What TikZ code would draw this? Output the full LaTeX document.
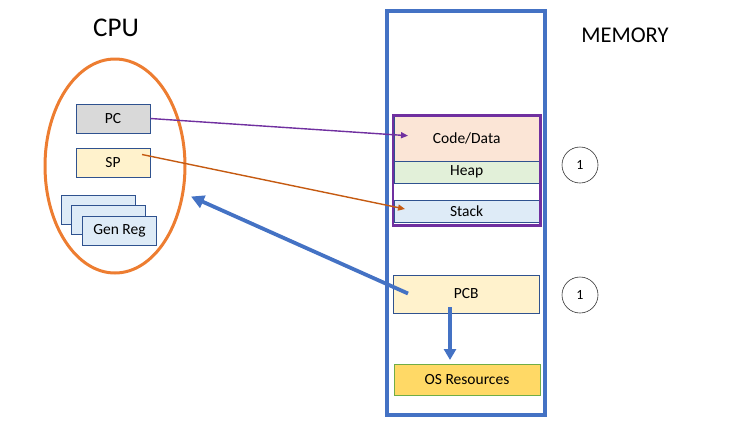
\documentclass[tikz,border=0pt]{standalone}
\usepackage{fontspec}
\setmainfont{Carlito}
\usetikzlibrary{arrows.meta}
\definecolor{orng}{HTML}{ED7D31}
\definecolor{bblue}{HTML}{4472C4}
\definecolor{dblue}{HTML}{2F528F}
\definecolor{purp}{HTML}{7030A0}
\definecolor{rust}{HTML}{C55A11}
\definecolor{cgray}{HTML}{D9D9D9}
\definecolor{cyel}{HTML}{FFF2CC}
\definecolor{cblue}{HTML}{DEEBF7}
\definecolor{cpeach}{HTML}{FBE5D6}
\definecolor{cgreen}{HTML}{E2F0D9}
\definecolor{cgold}{HTML}{FFD966}
\definecolor{ggreen}{HTML}{70AD47}
\tikzset{
  reg/.style={draw=dblue, line width=0.9pt, minimum width=74pt, minimum height=29pt, inner sep=0pt, font=\fontsize{15.5}{17}\selectfont},
  seg/.style={draw=dblue, line width=0.9pt, minimum width=145.5pt, inner sep=0pt, font=\fontsize{15.5}{17}\selectfont},
  num/.style={draw=black!80, circle, line width=0.6pt, minimum size=36pt, inner sep=0pt, font=\fontsize{14}{15}\selectfont},
  thinarrow/.style={line width=1.4pt, -{Triangle[length=7pt,width=6pt]}},
  bigarrow/.style={draw=bblue, line width=3.8pt, -{Triangle[length=13pt,width=13pt]}}
}
\begin{document}
\begin{tikzpicture}[x=1pt,y=-1pt]
\useasboundingbox (0,0) rectangle (729,432);
% labels
\node[font=\fontsize{27}{30}\selectfont] (cpu) at (116,28) {CPU};
\node[font=\fontsize{22.5}{25}\selectfont] (mem) at (625,35) {MEMORY};
% CPU ellipse
\draw[orng, line width=3pt] (115,166) ellipse [x radius=70, y radius=107];
\node[reg, fill=cgray] (pc) at (113,118.5) {PC};
\node[reg, fill=cyel] (sp) at (113,163) {SP};
\node[reg, fill=cblue, minimum width=74.7pt] (gr1) at (98.3,209.5) {};
\node[reg, fill=cblue, minimum width=74.7pt] (gr2) at (108.3,220.4) {};
\node[reg, fill=cblue, minimum width=74.4pt] (gr3) at (119.5,230.5) {Gen Reg};
% memory
\draw[bblue, line width=4pt] (386.5,11) rectangle (545,415);
\node[seg, fill=cpeach, minimum height=44.5pt] (code) at (466.7,138.7) {Code/Data};
\node[seg, fill=cgreen, minimum height=22pt] (heap) at (466.7,172.2) {Heap};
\node[seg, fill=cblue, minimum height=22pt] (stack) at (466.7,211) {Stack};
\draw[purp, line width=2.5pt] (393,115.5) rectangle (540.5,225.5);
\node[reg, fill=cyel, minimum width=146pt, minimum height=38pt] (pcb) at (466.3,294) {PCB};
\node[reg, draw=ggreen, fill=cgold, minimum width=146pt, minimum height=31pt] (os) at (467,380) {OS Resources};
\node[num] (n1) at (580,165) {1};
\node[num] (n2) at (580,295) {1};
% arrows
\coordinate (codein) at (408,135.7);
\coordinate (spout) at (142,154.5);
\coordinate (stackin) at (405,209);
\coordinate (pcbout) at (408,293.5);
\coordinate (cpuin) at (191,196.5);
\coordinate (pcbdown) at (450,307);
\coordinate (osin) at (450,360);
\draw[purp, thinarrow] (pc.east) -- (codein);
\draw[rust, thinarrow] (spout) -- (stackin);
\draw[bigarrow] (pcbout) -- (cpuin);
\draw[bigarrow, -{Triangle[length=11pt,width=12pt]}] (pcbdown) -- (osin);
\end{tikzpicture}
\end{document}
